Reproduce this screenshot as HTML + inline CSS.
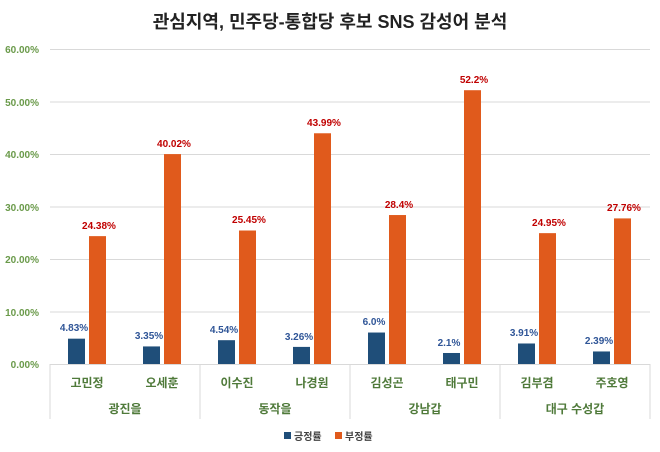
<!DOCTYPE html>
<html><head><meta charset="utf-8"><style>body{margin:0;background:#fff}svg{display:block}</style></head><body>
<svg width="660" height="452" xmlns="http://www.w3.org/2000/svg" font-family="'Liberation Sans','Noto Sans CJK KR',sans-serif">
<rect width="660" height="452" fill="#fff"/>
<text x="330" y="28" text-anchor="middle" font-size="18" font-weight="bold" fill="#222">관심지역, 민주당-통합당 후보 SNS 감성어 분석</text>
<g stroke="#d9d9d9" stroke-width="1">
<line x1="50" x2="650" y1="49.5" y2="49.5"/><line x1="50" x2="650" y1="102" y2="102"/><line x1="50" x2="650" y1="154.5" y2="154.5"/><line x1="50" x2="650" y1="207" y2="207"/><line x1="50" x2="650" y1="259.5" y2="259.5"/><line x1="50" x2="650" y1="312" y2="312"/><line x1="50" x2="650" y1="364.5" y2="364.5"/>
<line x1="50" x2="50" y1="364" y2="419"/><line x1="200" x2="200" y1="364" y2="419"/><line x1="350" x2="350" y1="364" y2="419"/><line x1="500" x2="500" y1="364" y2="419"/><line x1="650" x2="650" y1="364" y2="419"/>
</g>
<g font-size="10" font-weight="bold" fill="#6a9a4a" text-anchor="end">
<text x="39" y="53">60.00%</text><text x="39" y="106">50.00%</text><text x="39" y="158">40.00%</text><text x="39" y="211">30.00%</text><text x="39" y="263">20.00%</text><text x="39" y="316">10.00%</text><text x="39" y="368">0.00%</text>
</g>
<g fill="#1f4e79">
<rect x="68" y="338.67" width="17" height="25.33"/>
<rect x="143" y="346.43" width="17" height="17.57"/>
<rect x="218" y="340.19" width="17" height="23.81"/>
<rect x="293" y="346.9" width="17" height="17.1"/>
<rect x="368" y="332.53" width="17" height="31.47"/>
<rect x="443" y="352.99" width="17" height="11.01"/>
<rect x="518" y="343.49" width="17" height="20.51"/>
<rect x="593" y="351.46" width="17" height="12.54"/>
</g>
<g fill="#e05a1c">
<rect x="89" y="236.13" width="17" height="127.87"/>
<rect x="164" y="154.1" width="17" height="209.9"/>
<rect x="239" y="230.51" width="17" height="133.49"/>
<rect x="314" y="133.27" width="17" height="230.73"/>
<rect x="389" y="215.04" width="17" height="148.96"/>
<rect x="464" y="90.21" width="17" height="273.79"/>
<rect x="539" y="233.14" width="17" height="130.86"/>
<rect x="614" y="218.4" width="17" height="145.6"/>
</g>
<g font-size="10" font-weight="bold" fill="#2f5597" text-anchor="middle">
<text x="74" y="331">4.83%</text><text x="149" y="339">3.35%</text><text x="224" y="333">4.54%</text><text x="299" y="340">3.26%</text><text x="374" y="325">6.0%</text><text x="449" y="346">2.1%</text><text x="524" y="336">3.91%</text><text x="599" y="344">2.39%</text>
</g>
<g font-size="10" font-weight="bold" fill="#c00000" text-anchor="middle">
<text x="99" y="229">24.38%</text><text x="174" y="147">40.02%</text><text x="249" y="223">25.45%</text><text x="324" y="126">43.99%</text><text x="399" y="208">28.4%</text><text x="474" y="83">52.2%</text><text x="549" y="226">24.95%</text><text x="624" y="211">27.76%</text>
</g>
<g font-size="12" font-weight="bold" fill="#4f7a3a" text-anchor="middle">
<text x="87" y="387">고민정</text><text x="162" y="387">오세훈</text><text x="237" y="387">이수진</text><text x="312" y="387">나경원</text><text x="387" y="387">김성곤</text><text x="462" y="387">태구민</text><text x="537" y="387">김부겸</text><text x="612" y="387">주호영</text>
<text x="125" y="413">광진을</text><text x="275" y="413">동작을</text><text x="425" y="413">강남갑</text><text x="575" y="413">대구 수성갑</text>
</g>
<rect x="284" y="432" width="7" height="7" fill="#1f4e79"/><text x="294" y="440" font-size="10" font-weight="bold" fill="#444">긍정률</text>
<rect x="335" y="432" width="7" height="7" fill="#e05a1c"/><text x="345" y="440" font-size="10" font-weight="bold" fill="#444">부정률</text>
</svg>
</body></html>
